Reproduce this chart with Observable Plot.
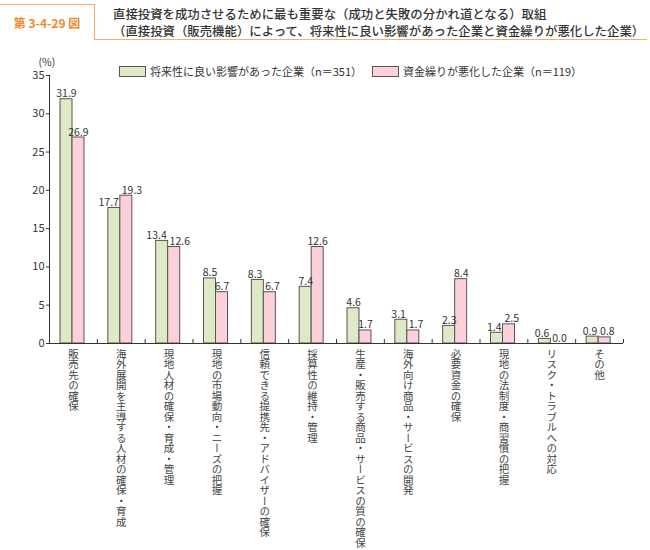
<!DOCTYPE html>
<html>
<head>
<meta charset="utf-8">
<script src="https://cdn.jsdelivr.net/npm/d3@7"></script>
<script src="https://cdn.jsdelivr.net/npm/@observablehq/plot@0.6"></script>
<style>
  html, body { margin: 0; padding: 0; background: #fff; }
  body { width: 650px; height: 550px; position: relative; font-family: "Noto Sans CJK JP", "Noto Sans", sans-serif; color: #333; overflow: hidden; }
  #head { position: relative; height: 46px; }
  #tab { position: absolute; left: 0; top: 4px; width: 95px; height: 36px; border-top: 1.5px solid #f5ae6e; border-right: 1.5px solid #f5ae6e; box-sizing: border-box; color: #f08a2c; font-weight: bold; font-size: 12px; line-height: 36px; text-align: center; }
  #rule { position: absolute; left: 95px; top: 39px; right: 3px; border-top: 1.5px solid #f5ae6e; }
  #ttl { position: absolute; left: 113px; top: 6px; font-size: 12.4px; line-height: 17px; font-weight: 500; color: #333; white-space: nowrap; }
  #legend { position: absolute; top: 63px; left: 119px; font-size: 11px; color: #333; display: flex; align-items: center; white-space: nowrap; }
  .sw { display: inline-block; width: 27px; height: 11px; border: 1px solid #555; box-sizing: border-box; margin-right: 4px; }
  .item { display: flex; align-items: center; }
</style>
</head>
<body>
<div id="head">
  <div id="tab">第 3-4-29 図</div>
  <div id="rule"></div>
  <div id="ttl"></div>
</div>
<div id="legend"></div>
<div id="chart"></div>
<script>
const titleLines = [
  "直接投資を成功させるために最も重要な（成功と失敗の分かれ道となる）取組",
  "（直接投資（販売機能）によって、将来性に良い影響があった企業と資金繰りが悪化した企業）"
];
const categories = [
  "販売先の確保",
  "海外展開を主導する人材の確保・育成",
  "現地人材の確保・育成・管理",
  "現地の市場動向・ニーズの把握",
  "信頼できる提携先・アドバイザーの確保",
  "採算性の維持・管理",
  "生産・販売する商品・サービスの質の確保",
  "海外向け商品・サービスの開発",
  "必要資金の確保",
  "現地の法制度・商習慣の把握",
  "リスク・トラブルへの対応",
  "その他"
];
const seriesNames = ["将来性に良い影響があった企業（n＝351）", "資金繰りが悪化した企業（n＝119）"];
const goodValues = [31.9, 17.7, 13.4, 8.5, 8.3, 7.4, 4.6, 3.1, 2.3, 1.4, 0.6, 0.9];
const badValues  = [26.9, 19.3, 12.6, 6.7, 6.7, 12.6, 1.7, 1.7, 8.4, 2.5, 0.0, 0.8];
const yTicks = [0, 5, 10, 15, 20, 25, 30, 35];
const colors = ["#deeac6", "#fbd0d8"];

document.getElementById("ttl").innerHTML = titleLines.join("<br>");
document.getElementById("legend").innerHTML = seriesNames.map((s, i) =>
  `<span class="item" style="margin-right:${i === 0 ? 10 : 0}px"><span class="sw" style="background:${colors[i]}"></span>${s}</span>`
).join("");

const good = categories.map((c, i) => ({cat: c, v: goodValues[i]}));
const bad = categories.map((c, i) => ({cat: c, v: badValues[i]}));
const fmt = d3.format(".1f");

// layout constants
const W = 650, H = 504, mL = 49, mR = 27, mT = 29, mB = 207;
const step = (W - mL - mR) / categories.length;
const barW = 12, gOff = 11;             // green bar starts gOff into the band
const pxPerUnit = (H - mT - mB) / 35;
const textW = s => s.replace(/\./g, "").length * 5.8 + 2.8;

// nudge neighbouring value labels apart when they would collide
const labelShift = categories.map((c, i) => {
  const dy = Math.abs(goodValues[i] - badValues[i]) * pxPerUnit;
  if (dy >= 13) return 0;
  const need = (textW(fmt(goodValues[i])) + textW(fmt(badValues[i]))) / 2 + 3 - barW;
  return Math.max(0, need) / 2;
});

const gCenter = gOff + barW / 2 - step / 2;       // offset from band centre
const pCenter = gOff + barW * 1.5 - step / 2;

const valueLabels = [];
good.forEach((d, i) => valueLabels.push(Plot.text([d], {x: "cat", y: "v", text: d => fmt(d.v), dx: gCenter - labelShift[i], dy: -2, lineAnchor: "bottom", fill: "#333"})));
bad.forEach((d, i) => valueLabels.push(Plot.text([d], {x: "cat", y: "v", text: d => fmt(d.v), dx: pCenter + labelShift[i], dy: -2, lineAnchor: "bottom", fill: "#333"})));

const chart = Plot.plot({
  width: W,
  height: H,
  marginLeft: mL,
  marginRight: mR,
  marginTop: mT,
  marginBottom: mB,
  style: {fontFamily: "'Noto Sans CJK JP', sans-serif", fontSize: "10.5px", color: "#333", background: "#fff"},
  x: {domain: categories, padding: 0, round: false, axis: null},
  y: {domain: [0, 35], axis: null},
  marks: [
    Plot.barY(good, {x: "cat", y: "v", fill: colors[0], stroke: "#555", strokeWidth: 1, insetLeft: gOff, insetRight: step - gOff - barW}),
    Plot.barY(bad, {x: "cat", y: "v", fill: colors[1], stroke: "#555", strokeWidth: 1, insetLeft: gOff + barW, insetRight: step - gOff - 2 * barW}),
    Plot.frame({anchor: "left", stroke: "#333"}),
    Plot.ruleY([0], {stroke: "#333"}),
    Plot.axisY({ticks: yTicks, tickSize: 3, tickPadding: 2, label: null, stroke: "#333", fill: "#333", fontSize: 11}),
    Plot.text(["(%)"], {frameAnchor: "top-left", lineAnchor: "middle", dx: -11, dy: -13, fill: "#333", fontSize: 10.5}),
    Plot.axisX({tickSize: 4, dy: -4, dx: step / 2, tickFormat: () => "", label: null, stroke: "#333"}),
    ...valueLabels,
    Plot.text(categories, {x: d => d, frameAnchor: "bottom", dy: 5, lineAnchor: "bottom", fill: "#444", fontSize: 10.5, ariaDescription: "catlabels"})
  ]
});

d3.select(chart).selectAll("g[aria-description=catlabels] text")
  .attr("writing-mode", "vertical-rl")
  .attr("text-anchor", "start")
  .attr("dy", null)
  .style("writing-mode", "vertical-rl");

document.getElementById("chart").appendChild(chart);
</script>
</body>
</html>
